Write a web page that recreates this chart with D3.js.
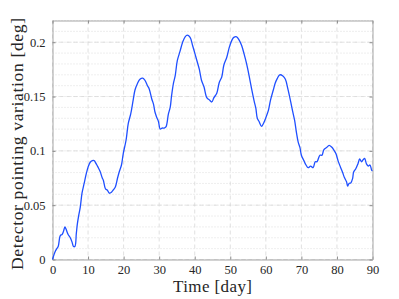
<!DOCTYPE html>
<html>
<head>
<meta charset="utf-8">
<script src="https://cdn.jsdelivr.net/npm/d3@7"></script>
<style>
  body { margin: 0; background: #fff; }
  svg text { font-family: "Liberation Serif", "DejaVu Serif", serif; fill: #262626; }
</style>
</head>
<body>
<script>
// time in days, pointing variation in degrees
var days = [0, 0.7, 1.2, 1.6, 2.2, 2.7, 3.1, 3.5, 3.8, 4.4, 5.0, 5.5, 5.9, 6.3, 6.7, 7.0, 7.4, 7.8,
  8.3, 8.9, 9.5, 10.0, 10.6, 11.2, 11.7, 12.3, 12.8, 13.4, 14.0, 14.3, 14.9, 15.4, 16.0, 16.6,
  17.1, 17.7, 18.3, 18.8, 19.4, 19.9, 20.7, 21.3, 22.0, 22.6, 23.2, 23.9, 24.6, 25.4, 26.0, 26.7,
  27.2, 27.9, 28.4, 28.8, 29.3, 29.8, 30.3, 30.8, 31.4, 31.9, 32.6, 33.1, 33.5, 34.0, 34.5, 35.1,
  35.9, 36.6, 37.3, 37.9, 38.7, 39.4, 40.1, 40.7, 41.3, 41.9, 42.6, 43.4, 44.1, 44.8, 45.4, 46.2,
  46.9, 47.6, 48.2, 49.0, 49.7, 50.4, 51.0, 51.8, 52.5, 53.2, 53.9, 54.6, 55.3, 56.0, 56.7, 57.2,
  57.6, 58.1, 58.8, 59.3, 60.0, 60.7, 61.3, 62.1, 62.6, 63.2, 63.9, 64.8, 65.5, 66.2, 67.0, 67.5,
  68.1, 68.6, 69.1, 69.6, 70.0, 70.7, 71.3, 71.9, 72.6, 73.3, 73.9, 74.4, 75.2, 75.8, 76.3, 77.1,
  77.8, 78.5, 79.1, 79.7, 80.3, 81.0, 81.6, 82.1, 82.7, 83.0, 83.4, 83.9, 84.4, 84.7, 85.3, 85.9,
  86.4, 86.9, 87.4, 87.8, 88.3, 88.8, 89.3, 89.8, 90];
var variation = [0, 0.007, 0.010, 0.012, 0.022, 0.023, 0.026, 0.030, 0.028, 0.023, 0.020, 0.016, 0.012, 0.012, 0.024, 0.033, 0.041, 0.048,
  0.061, 0.070, 0.079, 0.085, 0.0895, 0.091, 0.091, 0.088, 0.085, 0.081, 0.075, 0.073, 0.065, 0.064, 0.061, 0.062,
  0.064, 0.067, 0.075, 0.081, 0.087, 0.0975, 0.110, 0.125, 0.134, 0.145, 0.156, 0.162, 0.166, 0.167, 0.165, 0.160,
  0.157, 0.148, 0.143, 0.136, 0.131, 0.127, 0.120, 0.121, 0.121, 0.122, 0.134, 0.140, 0.151, 0.162, 0.169, 0.183,
  0.192, 0.200, 0.205, 0.2065, 0.2045, 0.197, 0.189, 0.182, 0.175, 0.165, 0.159, 0.149, 0.147, 0.145, 0.149, 0.153,
  0.163, 0.168, 0.179, 0.186, 0.195, 0.2015, 0.2045, 0.205, 0.202, 0.197, 0.189, 0.180, 0.169, 0.157, 0.146, 0.139,
  0.130, 0.127, 0.1225, 0.125, 0.1305, 0.137, 0.1465, 0.156, 0.162, 0.1665, 0.170, 0.169, 0.166, 0.157, 0.145, 0.137,
  0.128, 0.117, 0.108, 0.103, 0.096, 0.091, 0.087, 0.0845, 0.086, 0.0845, 0.090, 0.090, 0.096, 0.096, 0.101, 0.103,
  0.105, 0.1035, 0.101, 0.0975, 0.091, 0.085, 0.080, 0.0755, 0.0715, 0.0675, 0.070, 0.0705, 0.0745, 0.0805, 0.0835, 0.088,
  0.0925, 0.090, 0.092, 0.093, 0.088, 0.086, 0.087, 0.082, 0.082];
var xTicks = [0, 10, 20, 30, 40, 50, 60, 70, 80, 90];
var yTicks = [0, 0.05, 0.1, 0.15, 0.2];
var yMinor = d3.range(0, 0.2201, 0.01);

var width = 399, height = 299;
var margin = {top: 20.5, right: 26.5, bottom: 39.5, left: 52.5};
var plotW = width - margin.left - margin.right;
var plotH = height - margin.top - margin.bottom;

var svg = d3.select("body").append("svg")
  .attr("width", width)
  .attr("height", height);

var g = svg.append("g")
  .attr("transform", "translate(" + margin.left + "," + margin.top + ")");

var xScale = d3.scaleLinear().domain([0, 90]).range([0, plotW]);
var yScale = d3.scaleLinear().domain([0, 0.22]).range([plotH, 0]);

// minor horizontal grid (dotted)
g.selectAll(".yminor")
  .data(yMinor)
  .enter().append("line")
  .attr("x1", 0).attr("x2", plotW)
  .attr("y1", function(d){ return yScale(d); })
  .attr("y2", function(d){ return yScale(d); })
  .attr("stroke", "#d6d6d6")
  .attr("stroke-width", 0.8)
  .attr("stroke-dasharray", "1,2");

// major grid (dashed)
g.selectAll(".ymajor")
  .data(yTicks)
  .enter().append("line")
  .attr("x1", 0).attr("x2", plotW)
  .attr("y1", function(d){ return yScale(d); })
  .attr("y2", function(d){ return yScale(d); })
  .attr("stroke", "#d8d8d8")
  .attr("stroke-width", 0.8)
  .attr("stroke-dasharray", "4,3");

g.selectAll(".xmajor")
  .data(xTicks)
  .enter().append("line")
  .attr("y1", 0).attr("y2", plotH)
  .attr("x1", function(d){ return xScale(d); })
  .attr("x2", function(d){ return xScale(d); })
  .attr("stroke", "#d8d8d8")
  .attr("stroke-width", 0.8)
  .attr("stroke-dasharray", "4,3");

// axes: ticks inward, mirrored on top and right
function styleAxis(sel) {
  sel.attr("font-family", null);
  sel.select(".domain").attr("stroke", "#a6a6a6");
  sel.selectAll(".tick line").attr("stroke", "#8c8c8c");
  sel.selectAll(".tick text")
    .style("font-family", "'Liberation Serif', 'DejaVu Serif', serif")
    .style("font-size", "12.5px")
    .attr("fill", "#262626");
}

g.append("g")
  .attr("transform", "translate(0," + plotH + ")")
  .call(d3.axisBottom(xScale).tickValues(xTicks).tickSize(-3).tickSizeOuter(0).tickPadding(6))
  .call(styleAxis);

g.append("g")
  .call(d3.axisLeft(yScale).tickValues(yTicks).tickSize(-3).tickSizeOuter(0).tickPadding(7)
    .tickFormat(function(d){ return d3.format("")(+d.toFixed(2)); }))
  .call(styleAxis);

g.append("g")
  .call(d3.axisTop(xScale).tickValues(xTicks).tickSize(-3).tickSizeOuter(0).tickFormat(""))
  .call(styleAxis);

g.append("g")
  .attr("transform", "translate(" + plotW + ",0)")
  .call(d3.axisRight(yScale).tickValues(yTicks).tickSize(-3).tickSizeOuter(0).tickFormat(""))
  .call(styleAxis);

// data line
var line = d3.line()
  .x(function(d, i){ return xScale(days[i]); })
  .y(function(d){ return yScale(d); })
  .curve(d3.curveCatmullRom.alpha(0.5));

g.append("path")
  .datum(variation)
  .attr("d", line)
  .attr("fill", "none")
  .attr("stroke", "#1f4fff")
  .attr("stroke-width", 1.3);

// labels
svg.append("text")
  .attr("x", margin.left + plotW / 2)
  .attr("y", 292)
  .attr("text-anchor", "middle")
  .style("font-size", "17px")
  .attr("textLength", 79)
  .text("Time [day]");

svg.append("text")
  .attr("transform", "translate(23," + 144 + ") rotate(-90)")
  .attr("text-anchor", "middle")
  .style("font-size", "17.5px")
  .attr("textLength", 252)
  .text("Detector pointing variation [deg]");
</script>
</body>
</html>
